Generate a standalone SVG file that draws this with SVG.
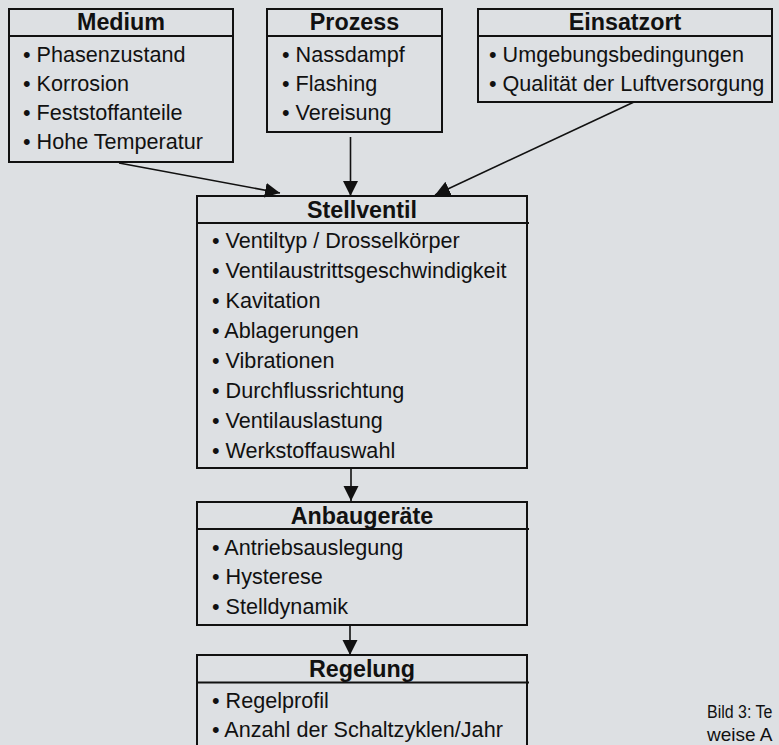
<svg xmlns="http://www.w3.org/2000/svg" width="779" height="745" viewBox="0 0 779 745">
<style>
.bg{fill:#dde0e3}
.box{fill:none;stroke:#111;stroke-width:2}
.sep{stroke:#111;stroke-width:2}
.t{font-family:"Liberation Sans",Arial,sans-serif;font-size:23.3px;font-weight:bold;fill:#111;text-anchor:middle}
.i{font-family:"Liberation Sans",Arial,sans-serif;font-size:21.6px;fill:#111}
.con{stroke:#111;stroke-width:1.6;fill:none;marker-end:url(#ah)}
.cap{font-family:"Liberation Sans",sans-serif;font-size:19px;fill:#111}
</style>
<defs>
<marker id="ah" markerUnits="userSpaceOnUse" markerWidth="16" markerHeight="16" refX="15" refY="7.5" orient="auto">
<path d="M0,0 L15,7.5 L0,15 z" fill="#111"/>
</marker>
</defs>
<rect class="bg" x="0" y="0" width="779" height="745"/>

<g id="medium">
<rect class="box" x="9" y="9" width="224" height="153"/>
<line class="sep" x1="9" y1="36" x2="233" y2="36"/>
<text class="t" x="121" y="30">Medium</text>
<text class="i" x="23" y="62">• Phasenzustand</text>
<text class="i" x="23" y="91">• Korrosion</text>
<text class="i" x="23" y="120">• Feststoffanteile</text>
<text class="i" x="23" y="149">• Hohe Temperatur</text>
</g>

<g id="prozess">
<rect class="box" x="267" y="9" width="175" height="123"/>
<line class="sep" x1="267" y1="36" x2="442" y2="36"/>
<text class="t" x="354.5" y="30">Prozess</text>
<text class="i" x="282" y="62">• Nassdampf</text>
<text class="i" x="282" y="91">• Flashing</text>
<text class="i" x="282" y="120">• Vereisung</text>
</g>

<g id="einsatzort">
<rect class="box" x="478" y="9" width="294" height="93"/>
<line class="sep" x1="478" y1="36" x2="772" y2="36"/>
<text class="t" x="625" y="30">Einsatzort</text>
<text class="i" x="489" y="62">• Umgebungsbedingungen</text>
<text class="i" x="489" y="91">• Qualität der Luftversorgung</text>
</g>

<g id="stellventil">
<rect class="box" x="197" y="196" width="330" height="272"/>
<line class="sep" x1="197" y1="223" x2="529" y2="223"/>
<text class="t" x="362" y="218">Stellventil</text>
<text class="i" x="212" y="248">• Ventiltyp / Drosselkörper</text>
<text class="i" x="212" y="278">• Ventilaustrittsgeschwindigkeit</text>
<text class="i" x="212" y="308">• Kavitation</text>
<text class="i" x="212" y="338">• Ablagerungen</text>
<text class="i" x="212" y="368">• Vibrationen</text>
<text class="i" x="212" y="398">• Durchflussrichtung</text>
<text class="i" x="212" y="428">• Ventilauslastung</text>
<text class="i" x="212" y="458">• Werkstoffauswahl</text>
</g>

<g id="anbaugeraete">
<rect class="box" x="197" y="502" width="330" height="123"/>
<line class="sep" x1="197" y1="529" x2="529" y2="529"/>
<text class="t" x="362" y="524">Anbaugeräte</text>
<text class="i" x="212" y="555">• Antriebsauslegung</text>
<text class="i" x="212" y="584">• Hysterese</text>
<text class="i" x="212" y="614">• Stelldynamik</text>
</g>

<g id="regelung">
<rect class="box" x="197" y="655" width="330" height="110"/>
<line class="sep" x1="197" y1="682.5" x2="529" y2="682.5"/>
<text class="t" x="362" y="677">Regelung</text>
<text class="i" x="212" y="708">• Regelprofil</text>
<text class="i" x="212" y="737">• Anzahl der Schaltzyklen/Jahr</text>
</g>

<g id="connectors">
<line class="con" x1="119" y1="163" x2="280" y2="193"/>
<line class="con" x1="350.5" y1="137" x2="350.5" y2="196"/>
<line class="con" x1="634" y1="102" x2="435" y2="195"/>
<line class="con" x1="351" y1="468" x2="351" y2="501"/>
<line class="con" x1="350" y1="625" x2="350" y2="655"/>
</g>

<g id="caption">
<text class="cap" transform="translate(707,718) scale(0.84,1)" x="0" y="0">Bild 3: Te</text>
<text class="cap" transform="translate(707,740.5)" x="0" y="0">weise A</text>
</g>
</svg>
